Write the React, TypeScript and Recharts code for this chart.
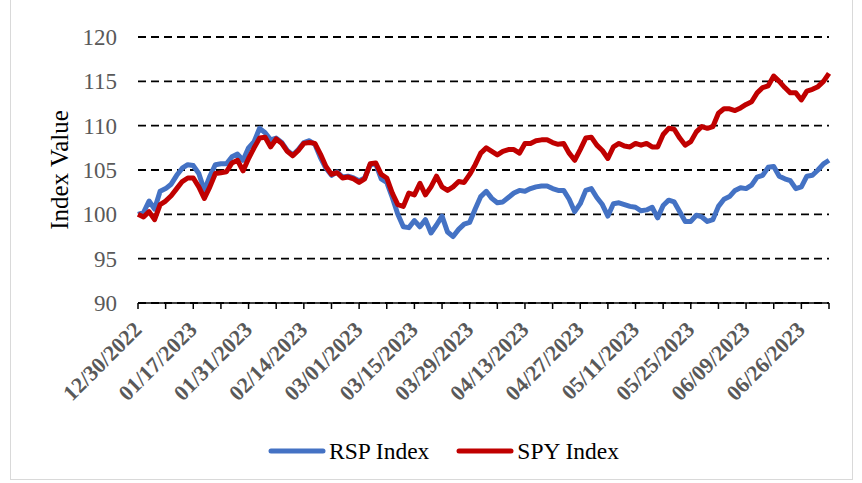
import { CartesianGrid, Legend, Line, LineChart, XAxis, YAxis } from "recharts";

const dates = [
  "12/30/2022",
  "01/03/2023", "01/04/2023", "01/05/2023", "01/06/2023", "01/09/2023", "01/10/2023", "01/11/2023", "01/12/2023", "01/13/2023",
  "01/17/2023", "01/18/2023", "01/19/2023", "01/20/2023", "01/23/2023", "01/24/2023", "01/25/2023", "01/26/2023", "01/27/2023",
  "01/30/2023", "01/31/2023",
  "02/01/2023", "02/02/2023", "02/03/2023", "02/06/2023", "02/07/2023", "02/08/2023", "02/09/2023", "02/10/2023", "02/13/2023",
  "02/14/2023", "02/15/2023", "02/16/2023", "02/17/2023", "02/21/2023", "02/22/2023", "02/23/2023", "02/24/2023", "02/27/2023",
  "02/28/2023",
  "03/01/2023", "03/02/2023", "03/03/2023", "03/06/2023", "03/07/2023", "03/08/2023", "03/09/2023", "03/10/2023", "03/13/2023",
  "03/14/2023", "03/15/2023", "03/16/2023", "03/17/2023", "03/20/2023", "03/21/2023", "03/22/2023", "03/23/2023", "03/24/2023",
  "03/27/2023", "03/28/2023", "03/29/2023", "03/30/2023", "03/31/2023",
  "04/03/2023", "04/04/2023", "04/05/2023", "04/06/2023", "04/10/2023", "04/11/2023", "04/12/2023", "04/13/2023", "04/14/2023",
  "04/17/2023", "04/18/2023", "04/19/2023", "04/20/2023", "04/21/2023", "04/24/2023", "04/25/2023", "04/26/2023", "04/27/2023",
  "04/28/2023",
  "05/01/2023", "05/02/2023", "05/03/2023", "05/04/2023", "05/05/2023", "05/08/2023", "05/09/2023", "05/10/2023", "05/11/2023",
  "05/12/2023", "05/15/2023", "05/16/2023", "05/17/2023", "05/18/2023", "05/19/2023", "05/22/2023", "05/23/2023", "05/24/2023",
  "05/25/2023", "05/26/2023", "05/30/2023", "05/31/2023",
  "06/01/2023", "06/02/2023", "06/05/2023", "06/06/2023", "06/07/2023", "06/08/2023", "06/09/2023", "06/12/2023", "06/13/2023",
  "06/14/2023", "06/15/2023", "06/16/2023", "06/20/2023", "06/21/2023", "06/22/2023", "06/23/2023", "06/26/2023", "06/27/2023",
  "06/28/2023", "06/29/2023", "06/30/2023",
  "07/03/2023",
];

const rspIndex = [
  100.0, 100.2, 101.5, 100.6, 102.6, 102.9, 103.4, 104.4, 105.2, 105.6,
  105.5, 104.6, 102.7, 104.3, 105.6, 105.7, 105.7, 106.5, 106.8, 106.1,
  107.5, 108.2, 109.7, 109.2, 108.4, 108.6, 108.1, 107.2, 106.7, 107.3,
  108.1, 108.3, 107.9, 106.4, 105.2, 104.4, 104.8, 104.2, 104.3, 104.1,
  103.8, 104.1, 105.6, 105.7, 104.0, 103.6, 101.9, 100.0, 98.6, 98.5,
  99.3, 98.6, 99.4, 97.9, 98.8, 99.8, 98.0, 97.5, 98.3, 98.9,
  99.1, 100.6, 102.0, 102.6, 101.8, 101.3, 101.4, 101.9, 102.4, 102.7,
  102.6, 102.9, 103.1, 103.2, 103.2, 102.9, 102.7, 102.7, 101.7, 100.3,
  101.2, 102.7, 102.9, 101.9, 101.1, 99.8, 101.2, 101.3, 101.1, 100.9,
  100.8, 100.4, 100.5, 100.8, 99.6, 101.0, 101.6, 101.4, 100.3, 99.2,
  99.2, 99.9, 99.7, 99.2, 99.4, 100.9, 101.7, 102.0, 102.7, 103.0,
  102.9, 103.3, 104.2, 104.4, 105.3, 105.4, 104.3, 104.0, 103.8, 102.9,
  103.1, 104.3, 104.4, 105.0, 105.7, 106.1,
];

const spyIndex = [
  100.0, 99.7, 100.3, 99.4, 101.1, 101.5, 102.1, 102.9, 103.7, 104.1,
  104.1, 103.1, 101.8, 103.1, 104.6, 104.7, 104.8, 105.8, 106.1, 104.9,
  106.3, 107.5, 108.6, 108.7, 107.6, 108.5, 108.0, 107.1, 106.6, 107.2,
  108.0, 108.1, 108.0, 106.8, 105.4, 104.5, 104.7, 104.1, 104.2, 104.0,
  103.6, 104.0, 105.7, 105.8, 104.5, 104.1, 102.4, 101.1, 100.9, 102.4,
  102.2, 103.5, 102.2, 103.1, 104.3, 103.1, 102.7, 103.1, 103.7, 103.6,
  104.5, 105.6, 106.9, 107.5, 107.1, 106.7, 107.1, 107.3, 107.3, 106.9,
  108.0, 108.0, 108.3, 108.4, 108.4, 108.1, 107.9, 108.0, 106.9, 106.1,
  107.3, 108.6, 108.7, 107.8, 107.2, 106.3, 107.6, 108.0, 107.7, 107.6,
  108.0, 107.8, 108.0, 107.6, 107.6, 109.0, 109.7, 109.6, 108.6, 107.8,
  108.2, 109.3, 109.9, 109.7, 109.9, 111.4, 111.9, 111.9, 111.7, 112.0,
  112.4, 112.7, 113.7, 114.3, 114.5, 115.6, 115.0, 114.3, 113.7, 113.7,
  112.9, 113.9, 114.1, 114.4, 115.0, 115.9,
];

const yTicks = [90, 95, 100, 105, 110, 115, 120];

const data = dates.map((date, i) => ({ date, rsp: rspIndex[i], spy: spyIndex[i] }));

const FONT = '"Liberation Serif", "Times New Roman", serif';

// only every 10th trading day gets a label, the ticks themselves come every 5th
function DateTick({ x, y, payload }: any) {
  const idx = dates.indexOf(payload.value);
  if (idx % 10 !== 0) return <g />;
  const ax = x + 5;
  const ay = y + 20;
  return (
    <text
      x={ax}
      y={ay}
      transform={`rotate(-45 ${ax} ${ay})`}
      textAnchor="end"
      fontFamily={FONT}
      fontSize={22}
      fontWeight="bold"
      fill="#595959"
    >
      {payload.value}
    </text>
  );
}

function YTitle() {
  return (
    <text
      x={59}
      y={170}
      transform="rotate(-90 59 170)"
      textAnchor="middle"
      dominantBaseline="central"
      fontFamily={FONT}
      fontSize={25}
      fill="#000"
    >
      Index Value
    </text>
  );
}

function LegendContent({ payload }: any) {
  return (
    <div style={{ display: "flex", alignItems: "center", height: 30, paddingLeft: 268, fontFamily: FONT, fontSize: 23.5, color: "#000" }}>
      {(payload || []).map((item: any, k: number) => (
        <div key={item.value} style={{ display: "flex", alignItems: "center", marginLeft: k ? 27 : 0 }}>
          <svg width={58} height={8}>
            <line x1={3} y1={4} x2={55} y2={4} stroke={item.color} strokeWidth={5} strokeLinecap="round" />
          </svg>
          <span style={{ marginLeft: 3 }}>{item.value}</span>
        </div>
      ))}
    </div>
  );
}

export default function App() {
  return (
    <div style={{ position: "absolute", left: 0, top: 0, width: 862, height: 483, background: "#fff", overflow: "hidden" }}>
      <div style={{ position: "absolute", left: 10, top: -1, width: 841, height: 479, border: "1px solid #d9d9d9" }} />
      <LineChart width={862} height={483} data={data} margin={{ top: 37, right: 33, bottom: 17, left: 0 }}>
        <CartesianGrid vertical={false} stroke="#000" strokeWidth={1.8} strokeDasharray="8 5" />
        <XAxis
          dataKey="date"
          interval={4}
          height={133}
          tickSize={6}
          tick={<DateTick />}
          tickLine={{ stroke: "#000", strokeWidth: 1.5 }}
          axisLine={{ stroke: "#000", strokeWidth: 1.5 }}
        />
        <YAxis
          domain={[90, 120]}
          ticks={yTicks}
          width={138}
          axisLine={false}
          tickLine={false}
          tickSize={0}
          tickMargin={21}
          tick={{ fill: "#595959", fontSize: 23, fontFamily: FONT }}
          label={<YTitle />}
        />
        <Legend verticalAlign="bottom" height={30} wrapperStyle={{ left: 0, width: 862 }} content={<LegendContent />} />
        <Line
          name="RSP Index"
          dataKey="rsp"
          stroke="#4472C4"
          strokeWidth={5}
          strokeLinejoin="round"
          dot={false}
          activeDot={false}
          isAnimationActive={false}
        />
        <Line
          name="SPY Index"
          dataKey="spy"
          stroke="#C00000"
          strokeWidth={5}
          strokeLinejoin="round"
          dot={false}
          activeDot={false}
          isAnimationActive={false}
        />
      </LineChart>
    </div>
  );
}
